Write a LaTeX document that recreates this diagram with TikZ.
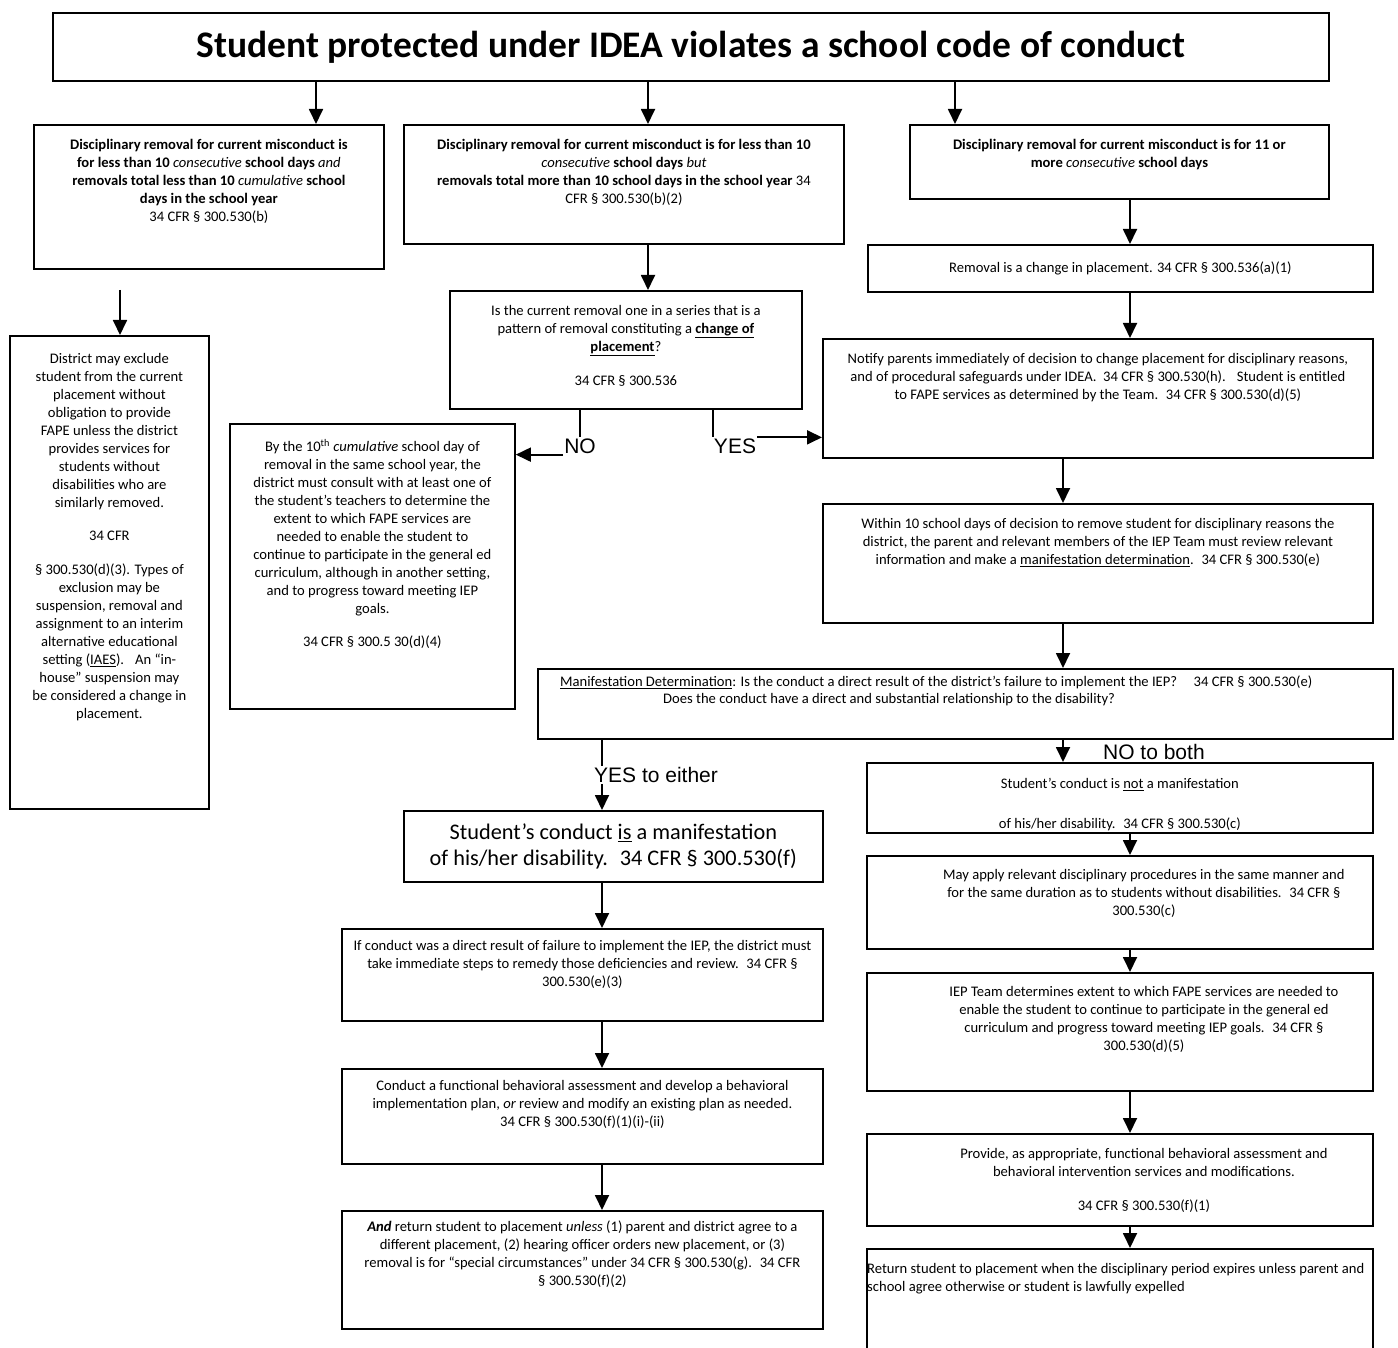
\documentclass[tikz,border=0pt]{standalone}
\usepackage{fontspec}
\setmainfont{Carlito}
\newfontfamily\labelfont{Liberation Sans}
\usetikzlibrary{positioning,arrows.meta}

\tikzset{
  box/.style={draw, line width=1.8pt, inner sep=0pt, anchor=north west},
  txt/.style={inner sep=0pt, anchor=north, align=center, font=\fontsize{14.6}{18}\selectfont},
  bold/.style={font=\fontsize{14.6}{18}\selectfont\bfseries},
  bigtxt/.style={inner sep=0pt, align=center, font=\fontsize{22.3}{26}\selectfont},
  arr/.style={line width=1.8pt, -{Triangle[width=14pt,length=15pt]}},
  lnk/.style={line width=1.8pt},
  lbl/.style={font=\labelfont\fontsize{21}{21}\selectfont, inner sep=1pt, fill=white}
}

\begin{document}
\begin{tikzpicture}[x=1pt, y=-1pt]
    \useasboundingbox (0,0) rectangle (1398,1348);

    % Columns used by the connectors
    \coordinate (xA) at (316,0);
    \coordinate (xB) at (648,0);
    \coordinate (xC) at (955,0);
    \coordinate (xR) at (1130,0);
    \coordinate (xM) at (1063,0);
    \coordinate (xL) at (602,0);
    \coordinate (dTop) at (120,290);

    % Title
    \node[box, minimum width=1276pt, minimum height=68pt] (title) at (52,12) {};
    \node[font=\fontsize{37.5}{40}\selectfont\bfseries] at (title.center) {Student protected under IDEA violates a school code of conduct};

    % First row
    \node[box, minimum width=350pt, minimum height=144pt] (less) at (33,124) {};
    \node[txt, bold, below=15pt of less.north] {Disciplinary removal for current misconduct is\\
      for less than 10 \textmd{\itshape consecutive} school days \textmd{\itshape and}\\
      removals total less than 10 \textmd{\itshape cumulative} school\\
      days in the school year\\
      \mdseries 34 CFR § 300.530(b)};

    \node[box, minimum width=440pt, minimum height=119pt] (series) at (403,124) {};
    \node[txt, bold, below=15pt of series.north] {Disciplinary removal for current misconduct is for less than 10\\
      \textmd{\itshape consecutive} school days \textmd{\itshape but}\\
      removals total more than 10 school days in the school year \mdseries 34\\
      \mdseries CFR § 300.530(b)(2)};

    \node[box, minimum width=419pt, minimum height=74pt] (more) at (909,124) {};
    \node[txt, bold, below=15pt of more.north] {Disciplinary removal for current misconduct is for 11 or\\
      more \textmd{\itshape consecutive} school days};

    \draw[arr] (title.south -| xA) -- (less.north -| xA);
    \draw[arr] (title.south -| xB) -- (series.north -| xB);
    \draw[arr] (title.south -| xC) -- (more.north -| xC);

    % Left column
    \node[box, minimum width=199pt, minimum height=473pt] (excl) at (9,335) {};
    \node[txt, below=18pt of excl.north] {District may exclude\\
      student from the current\\
      placement without\\
      obligation to provide\\
      FAPE unless the district\\
      provides services for\\
      students without\\
      disabilities who are\\
      similarly removed.\\[15.6pt]
      34 CFR\\[15.6pt]
      § 300.530(d)(3). Types of\\
      exclusion may be\\
      suspension, removal and\\
      assignment to an interim\\
      alternative educational\\
      setting (\underline{IAES}).~~ An “in-\\
      house” suspension may\\
      be considered a change in\\
      placement.};
    \draw[arr] (dTop) -- (excl.north -| dTop);

    % Pattern of removals
    \node[box, minimum width=352pt, minimum height=118pt] (quest) at (449,290) {};
    \node[txt, below=15pt of quest.north] {Is the current removal one in a series that is a\\
      pattern of removal constituting a \textbf{\underline{change of}}\\
      \textbf{\underline{placement}}?\\[16pt]
      34 CFR § 300.536};
    \draw[arr] (series.south -| xB) -- (quest.north -| xB);

    \node[box, minimum width=285pt, minimum height=285pt] (tenth) at (229,423) {};
    \node[txt, below=16pt of tenth.north] {By the 10\textsuperscript{th} \textit{cumulative} school day of\\
      removal in the same school year, the\\
      district must consult with at least one of\\
      the student’s teachers to determine the\\
      extent to which FAPE services are\\
      needed to enable the student to\\
      continue to participate in the general ed\\
      curriculum, although in another setting,\\
      and to progress toward meeting IEP\\
      goals.\\[15pt]
      34 CFR § 300.5 30(d)(4)};

    \node[lbl] (noLbl) at (580,446) {NO};
    \node[lbl] (yesLbl) at (735,446) {YES};
    \draw[lnk] (quest.south -| noLbl.north) -- (noLbl.north);
    \draw[arr] (noLbl.south west) -- (noLbl.south west -| tenth.east);
    \draw[lnk] (quest.south -| yesLbl.north west) -- (yesLbl.north west);

    % Change in placement
    \node[box, minimum width=505pt, minimum height=47pt] (change) at (867,244) {};
    \node[txt, anchor=center] at (change.center) {Removal is a change in placement. 34 CFR § 300.536(a)(1)};
    \draw[arr] (more.south -| xR) -- (change.north -| xR);

    \node[box, minimum width=550pt, minimum height=119pt] (notify) at (822,338) {};
    \node[txt, below=15pt of notify.north] {Notify parents immediately of decision to change placement for disciplinary reasons,\\
      and of procedural safeguards under IDEA.~ 34 CFR § 300.530(h).~~ Student is entitled\\
      to FAPE services as determined by the Team.~ 34 CFR § 300.530(d)(5)};
    \draw[arr] (change.south -| xR) -- (notify.north -| xR);
    \draw[arr] (yesLbl.north east) -- (yesLbl.north east -| notify.west);

    \node[box, minimum width=550pt, minimum height=119pt] (within) at (822,503) {};
    \node[txt, below=15pt of within.north] {Within 10 school days of decision to remove student for disciplinary reasons the\\
      district, the parent and relevant members of the IEP Team must review relevant\\
      information and make a \underline{manifestation determination}.~ 34 CFR § 300.530(e)};
    \draw[arr] (notify.south -| xM) -- (within.north -| xM);

    % Manifestation determination
    \node[box, minimum width=855pt, minimum height=70pt] (manif) at (537,668) {};
    \node[txt, align=left, font=\fontsize{14.6}{17}\selectfont, anchor=north west, below right=8pt and 23pt of manif.north west] {\underline{Manifestation Determination}: Is the conduct a direct result of the district’s failure to implement the IEP?~~~~ 34 CFR § 300.530(e)\\
      \hspace*{103pt}Does the conduct have a direct and substantial relationship to the disability?};
    \draw[arr] (within.south -| xM) -- (manif.north -| xM);

    % Yes to either
    \node[lbl, anchor=west] (yesEither) at (593,775) {YES to either};
    \draw[lnk] (manif.south -| xL) -- (yesEither.north -| xL);

    \node[box, minimum width=419pt, minimum height=71pt] (isM) at (403,810) {};
    \node[bigtxt] at (isM.center) {Student’s conduct \underline{is} a manifestation\\
      of his/her disability.~ 34 CFR § 300.530(f)};
    \draw[arr] (yesEither.south -| xL) -- (isM.north -| xL);

    \node[box, minimum width=481pt, minimum height=92pt] (remedy) at (341,928) {};
    \node[txt, below=12pt of remedy.north] {If conduct was a direct result of failure to implement the IEP, the district must\\
      take immediate steps to remedy those deficiencies and review.~ 34 CFR §\\
      300.530(e)(3)};
    \draw[arr] (isM.south -| xL) -- (remedy.north -| xL);

    \node[box, minimum width=481pt, minimum height=95pt] (fba) at (341,1068) {};
    \node[txt, below=12pt of fba.north] {Conduct a functional behavioral assessment and develop a behavioral\\
      implementation plan, \textit{or} review and modify an existing plan as needed.\\
      34 CFR § 300.530(f)(1)(i)-(ii)};
    \draw[arr] (remedy.south -| xL) -- (fba.north -| xL);

    \node[box, minimum width=481pt, minimum height=118pt] (back) at (341,1210) {};
    \node[txt, below=11pt of back.north] {\textbf{\textit{And}} return student to placement \textit{unless} (1) parent and district agree to a\\
      different placement, (2) hearing officer orders new placement, or (3)\\
      removal is for “special circumstances” under 34 CFR § 300.530(g).~ 34 CFR\\
      § 300.530(f)(2)};
    \draw[arr] (fba.south -| xL) -- (back.north -| xL);

    % No to both
    \node[box, minimum width=506pt, minimum height=70pt] (notM) at (866,762) {};
    \begin{scope}
      \clip (notM.north west) rectangle (notM.south east);
      \node[txt, below=16pt of notM.north] {Student’s conduct is \underline{not} a manifestation\\[22pt]
        of his/her disability.~ 34 CFR § 300.530(c)};
    \end{scope}
    \draw[arr] (manif.south -| xM) -- (notM.north -| xM);
    \node[lbl] (noBoth) at (1151,752) {~NO to both~};

    \node[box, minimum width=506pt, minimum height=93pt] (apply) at (866,855) {};
    \node[txt, below=14pt of apply.north, xshift=24pt] {May apply relevant disciplinary procedures in the same manner and\\
      for the same duration as to students without disabilities.~ 34 CFR §\\
      300.530(c)};
    \draw[arr] (notM.south -| xR) -- (apply.north -| xR);

    \node[box, minimum width=506pt, minimum height=118pt] (team) at (866,972) {};
    \node[txt, below=14pt of team.north, xshift=24pt] {IEP Team determines extent to which FAPE services are needed to\\
      enable the student to continue to participate in the general ed\\
      curriculum and progress toward meeting IEP goals.~ 34 CFR §\\
      300.530(d)(5)};
    \draw[arr] (apply.south -| xR) -- (team.north -| xR);

    \node[box, minimum width=506pt, minimum height=92pt] (provide) at (866,1133) {};
    \node[txt, below=15pt of provide.north, xshift=24pt] {Provide, as appropriate, functional behavioral assessment and\\
      behavioral intervention services and modifications.\\[16pt]
      34 CFR § 300.530(f)(1)};
    \draw[arr] (team.south -| xR) -- (provide.north -| xR);

    \node[box, minimum width=506pt, minimum height=104pt] (expire) at (866,1248) {};
    \node[txt, align=left, anchor=north west, below right=15pt and 1pt of expire.north west] {Return student to placement when the disciplinary period expires unless parent and\\
      school agree otherwise or student is lawfully expelled};
    \draw[arr] (provide.south -| xR) -- (expire.north -| xR);

\end{tikzpicture}
\end{document}
